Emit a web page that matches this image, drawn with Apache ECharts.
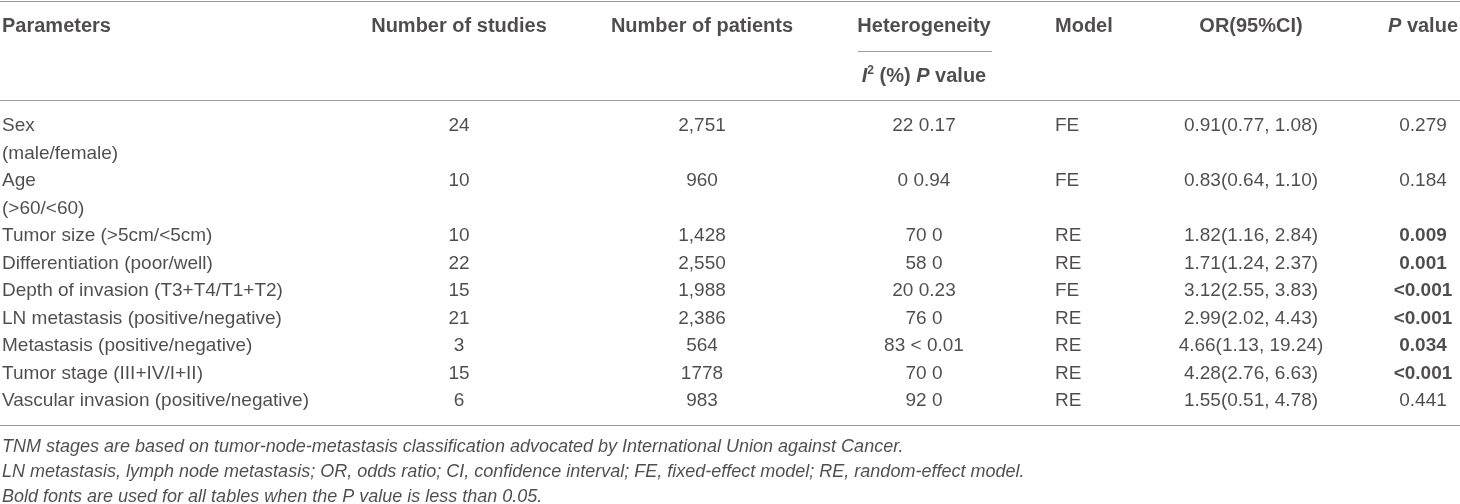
<!DOCTYPE html>
<html>
<head>
<meta charset="utf-8">
<script src="https://cdn.jsdelivr.net/npm/echarts@6/dist/echarts.min.js"></script>
<style>
  html, body { margin: 0; padding: 0; background: #fff; }
  #table-main { width: 1460px; height: 504px; }
</style>
</head>
<body>
<div id="table-main"></div>
<script>
// table content
const headers = ['Parameters', 'Number of studies', 'Number of patients', 'Heterogeneity', 'Model', 'OR(95%CI)', '{pi|P}{b| value}'];
const subHeader = '{ii|I}{sup|2}{b| (%) }{ii|P}{b| value}';
const parameters = [
    ['Sex', '(male/female)'],
    ['Age', '(>60/<60)'],
    ['Tumor size (>5cm/<5cm)'],
    ['Differentiation (poor/well)'],
    ['Depth of invasion (T3+T4/T1+T2)'],
    ['LN metastasis (positive/negative)'],
    ['Metastasis (positive/negative)'],
    ['Tumor stage (III+IV/I+II)'],
    ['Vascular invasion (positive/negative)']
];
const studies = [24, 10, 10, 22, 15, 21, 3, 15, 6];
const patients = ['2,751', '960', '1,428', '2,550', '1,988', '2,386', '564', '1778', '983'];
const i2 = [22, 0, 70, 58, 20, 76, 83, 70, 92];
const hetP = ['0.17', '0.94', '0', '0', '0.23', '0', '< 0.01', '0', '0'];
const model = ['FE', 'FE', 'RE', 'RE', 'FE', 'RE', 'RE', 'RE', 'RE'];
const orCI = ['0.91(0.77, 1.08)', '0.83(0.64, 1.10)', '1.82(1.16, 2.84)', '1.71(1.24, 2.37)',
    '3.12(2.55, 3.83)', '2.99(2.02, 4.43)', '4.66(1.13, 19.24)', '4.28(2.76, 6.63)', '1.55(0.51, 4.78)'];
const pValue = ['0.279', '0.184', '0.009', '0.001', '<0.001', '<0.001', '0.034', '<0.001', '0.441'];
const notes = [
    'TNM stages are based on tumor-node-metastasis classification advocated by International Union against Cancer.',
    'LN metastasis, lymph node metastasis; OR, odds ratio; CI, confidence interval; FE, fixed-effect model; RE, random-effect model.',
    'Bold fonts are used for all tables when the P value is less than 0.05.'
];

// layout
const W = 1460, H = 504;
const colX = [2, 459, 702, 924, 1055, 1251, 1423];
const colAlign = ['left', 'center', 'center', 'center', 'left', 'center', 'center'];
const headY = [26, 76];
const bodyTop = 126, lineStep = 27.5;
const noteTop = 447, noteStep = 25;
const font = '"Liberation Sans", Arial, Helvetica, sans-serif';
const ink = '#231f20';
const ruleColor = '#9a9a9a';
const headSize = 20, bodySize = 19, noteSize = 18;

const richStyles = {
    b: { fontWeight: 'bold', fontSize: headSize, fontFamily: font, color: ink, lineHeight: 22 },
    pi: { fontWeight: 'bold', fontStyle: 'italic', fontSize: headSize, fontFamily: font, color: ink, lineHeight: 22 },
    ii: { fontWeight: 'bold', fontStyle: 'italic', fontSize: headSize, fontFamily: font, color: ink, lineHeight: 22 },
    sup: { fontWeight: 'bold', fontSize: 12, fontFamily: font, color: ink, lineHeight: 12, verticalAlign: 'top' }
};

const cells = [];
function cell(x, y, text, opts) {
    cells.push({ value: [x, y], text: text, label: Object.assign({ align: 'center' }, opts || {}) });
}

headers.forEach(function (h, c) {
    cell(colX[c], headY[0], h, { align: colAlign[c], fontWeight: 'bold', fontSize: headSize, rich: richStyles });
});
cell(colX[3], headY[1], subHeader, { fontSize: headSize, rich: richStyles });

let line = 0;
parameters.forEach(function (p, r) {
    const y = bodyTop + line * lineStep;
    p.forEach(function (t, k) {
        cell(colX[0], bodyTop + (line + k) * lineStep, t, { align: 'left' });
    });
    const sig = parseFloat(pValue[r].replace('<', '')) < 0.05;
    cell(colX[1], y, String(studies[r]));
    cell(colX[2], y, patients[r]);
    cell(colX[3], y, i2[r] + ' ' + hetP[r]);
    cell(colX[4], y, model[r], { align: 'left' });
    cell(colX[5], y, orCI[r]);
    cell(colX[6], y, pValue[r], { fontWeight: sig ? 'bold' : 'normal' });
    line += p.length;
});
const bodyBottom = bodyTop + (line - 1) * lineStep;

notes.forEach(function (n, k) {
    cell(colX[0], noteTop + k * noteStep, n, { align: 'left', fontStyle: 'italic', fontSize: noteSize });
});

const rules = [
    [[0, 1], [W, 1]],
    [[858, 51], [992, 51]],
    [[0, 100.5], [W, 100.5]],
    [[0, bodyBottom + 24], [W, bodyBottom + 24]]
];

const myChart = echarts.init(document.getElementById('table-main'));
const option = {
    animation: false,
    grid: { left: 0, right: 0, top: 0, bottom: 0 },
    xAxis: { type: 'value', min: 0, max: W, show: false },
    yAxis: { type: 'value', min: 0, max: H, inverse: true, show: false },
    series: [{
        type: 'scatter',
        symbolSize: 0,
        silent: true,
        data: cells,
        label: {
            show: true,
            position: 'inside',
            verticalAlign: 'middle',
            fontSize: bodySize,
            fontFamily: font,
            color: ink,
            formatter: function (p) { return p.data.text; }
        },
        markLine: {
            silent: true,
            symbol: 'none',
            label: { show: false },
            lineStyle: { color: ruleColor, width: 1, type: 'solid' },
            data: rules.map(function (r) {
                return [{ coord: r[0] }, { coord: r[1] }];
            })
        }
    }]
};
option && myChart.setOption(option);
</script>
</body>
</html>
